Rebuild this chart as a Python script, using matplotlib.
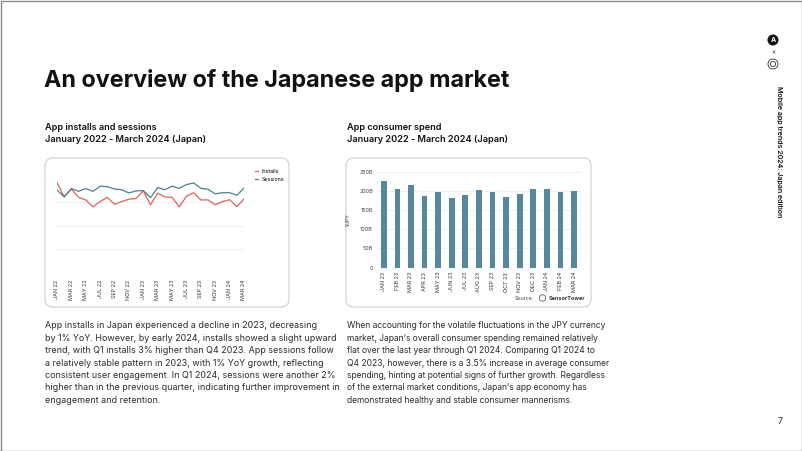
import matplotlib
matplotlib.use("Agg")
import matplotlib.pyplot as plt
from matplotlib.patches import FancyBboxPatch, Circle, Rectangle

plt.rcParams['font.family'] = ['Inter', 'DejaVu Sans']

# ---- data ----
line_months = ['JAN 22', 'FEB 22', 'MAR 22', 'APR 22', 'MAY 22', 'JUN 22', 'JUL 22',
               'AUG 22', 'SEP 22', 'OCT 22', 'NOV 22', 'DEC 22', 'JAN 23', 'FEB 23',
               'MAR 23', 'APR 23', 'MAY 23', 'JUN 23', 'JUL 23', 'AUG 23', 'SEP 23',
               'OCT 23', 'NOV 23', 'DEC 23', 'JAN 24', 'FEB 24', 'MAR 24']
installs = [38.4, 32.4, 35.7, 32.1, 31.0, 28.0, 30.3, 32.1, 29.1, 30.3, 31.3, 31.6, 34.9, 28.9,
            33.9, 32.3, 32.1, 28.0, 32.6, 34.1, 31.0, 31.0, 28.9, 30.3, 31.1, 28.1, 31.4]
sessions = [35.3, 32.3, 35.9, 34.7, 35.9, 34.7, 36.9, 36.7, 35.7, 35.4, 34.0, 34.9, 35.0, 32.0,
            36.3, 35.4, 36.9, 36.0, 37.6, 38.3, 36.0, 35.6, 33.6, 34.1, 34.1, 33.0, 36.1]

bar_months = ['JAN 23', 'FEB 23', 'MAR 23', 'APR 23', 'MAY 23', 'JUN 23', 'JUL 23', 'AUG 23',
              'SEP 23', 'OCT 23', 'NOV 23', 'DEC 23', 'JAN 24', 'FEB 24', 'MAR 24']
spend_b = [227, 204, 216, 187, 196, 182, 190, 203, 198, 184, 191, 205, 206, 198, 200]
spend_ticks = [0, 50, 100, 150, 200, 250]

left_text = [
    "App installs in Japan experienced a decline in 2023, decreasing",
    "by 1% YoY. However, by early 2024, installs showed a slight upward",
    "trend, with Q1 installs 3% higher than Q4 2023. App sessions follow",
    "a relatively stable pattern in 2023, with 1% YoY growth, reflecting",
    "consistent user engagement. In Q1 2024, sessions were another 2%",
    "higher than in the previous quarter, indicating further improvement in",
    "engagement and retention.",
]
right_text = [
    "When accounting for the volatile fluctuations in the JPY currency",
    "market, Japan\u2019s overall consumer spending remained relatively",
    "flat over the last year through Q1 2024. Comparing Q1 2024 to",
    "Q4 2023, however, there is a 3.5% increase in average consumer",
    "spending, hinting at potential signs of further growth. Regardless",
    "of the external market conditions, Japan\u2019s app economy has",
    "demonstrated healthy and stable consumer mannerisms.",
]

RED = '#E0625C'
TEAL = '#4C7F90'
BAR = '#55889A'
GRID = '#EDEDED'
TXT = '#2B2B2B'

W, H = 802, 451
fig = plt.figure(figsize=(W / 100, H / 100), dpi=100)

# page layer in pixel coordinates
bg = fig.add_axes([0, 0, 1, 1], zorder=0)
bg.set_xlim(0, W)
bg.set_ylim(H, 0)
bg.axis('off')


def box(x0, y0, x1, y1):
    return [x0 / W, 1 - y1 / H, (x1 - x0) / W, (y1 - y0) / H]


# frame
bg.add_patch(Rectangle((0.5, 0.5), W - 1, H - 1, fill=False, ec='#8a8a8a', lw=1))

bg.text(44, 80, "An overview of the Japanese app market", fontsize=16.8,
        fontweight='bold', color='#111111', va='center', ha='left')

for x0, t in [(45, "App installs and sessions"), (347, "App consumer spend")]:
    bg.text(x0, 127, t, fontsize=6.6, fontweight='semibold', color='#111111', va='center')
    bg.text(x0, 139, "January 2022 - March 2024 (Japan)", fontsize=6.6,
            fontweight='semibold', color='#111111', va='center')

# cards
for x0, x1 in [(45, 289), (346, 591)]:
    bg.add_patch(FancyBboxPatch((x0, 158), x1 - x0, 149,
                                boxstyle="round,pad=0,rounding_size=8",
                                fc='white', ec='#CFCFCF', lw=0.8))

# body text
for i, (a, b) in enumerate(zip(left_text, right_text)):
    y = 326 + i * 12.35
    bg.text(45, y, a, fontsize=6.45, color=TXT, va='center')
    bg.text(347, y, b, fontsize=6.1, color=TXT, va='center')

bg.text(780, 422, "7", fontsize=6.5, color=TXT, ha='center', va='center')

# sidebar
bg.add_patch(Circle((773, 40), 5.5, fc='#111111', ec='none'))
bg.text(773, 40.5, "A", fontsize=5, fontweight='bold', color='white', ha='center', va='center')
bg.text(773, 52, "\u00d7", fontsize=4.5, color='#333333', ha='center', va='center')
bg.add_patch(Circle((773, 64), 5, fc='none', ec='#333333', lw=0.6))
bg.add_patch(Circle((773, 64), 2.6, fc='none', ec='#333333', lw=0.6))
bg.text(779, 86, "Mobile app trends 2024: Japan edition", fontsize=5.1,
        fontweight='semibold', color='#111111', rotation=-90, ha='center', va='top')

# ---- line chart ----
ax1 = fig.add_axes(box(57, 179, 244, 272), zorder=1)
ax1.set_facecolor('none')
x = range(len(line_months))
ax1.plot(x, installs, color=RED, lw=0.9, label='Installs')
ax1.plot(x, sessions, color=TEAL, lw=0.9, label='Sessions')
ax1.set_xlim(0, len(line_months) - 1)
ax1.set_ylim(0, 40)
ax1.set_yticks([0, 10, 20, 30])
ax1.yaxis.grid(True, color=GRID, lw=0.6)
ax1.set_axisbelow(True)
ax1.tick_params(axis='y', left=False, labelleft=False)
ax1.set_xticks(list(x)[::2])
ax1.set_xticklabels(line_months[::2], rotation=90, fontsize=3.9, color='#333333')
ax1.tick_params(axis='x', length=0, pad=5.5)
for s in ax1.spines.values():
    s.set_visible(False)
ax1.legend(loc='upper left', bbox_to_anchor=(252 / W, 1 - 166 / H),
           bbox_transform=fig.transFigure, fontsize=3.8, frameon=False,
           handlelength=0.7, handletextpad=0.6, labelspacing=0.6, borderpad=0)

# ---- bar chart ----
ax2 = fig.add_axes(box(377, 171.7, 580.8, 267.7), zorder=1)
ax2.set_facecolor('none')
ax2.bar(range(len(bar_months)), spend_b, width=0.42, color=BAR)
ax2.set_xlim(-0.5, len(bar_months) - 0.5)
ax2.set_ylim(0, 250)
ax2.set_yticks(spend_ticks)
ax2.set_yticklabels(['0' if v == 0 else f'{v}B' for v in spend_ticks],
                    fontsize=3.9, color='#444444')
ax2.yaxis.grid(True, color=GRID, lw=0.6)
ax2.set_axisbelow(True)
ax2.set_xticks(range(len(bar_months)))
ax2.set_xticklabels(bar_months, rotation=90, fontsize=3.9, color='#333333')
ax2.tick_params(axis='both', length=0, pad=3)
for s in ax2.spines.values():
    s.set_visible(False)
ax2.set_ylabel("\u00a5JPY", fontsize=3.8, color='#444444', labelpad=6)

bg.text(534, 298, "Source:", fontsize=3.8, color='#444444', ha='right', va='center')
bg.add_patch(Circle((542.5, 298), 3.2, fc='none', ec='#444444', lw=0.5))
bg.text(549, 298, "SensorTower", fontsize=4, fontweight='bold', color='#333333', va='center')

fig.savefig("out.png", dpi=100)
